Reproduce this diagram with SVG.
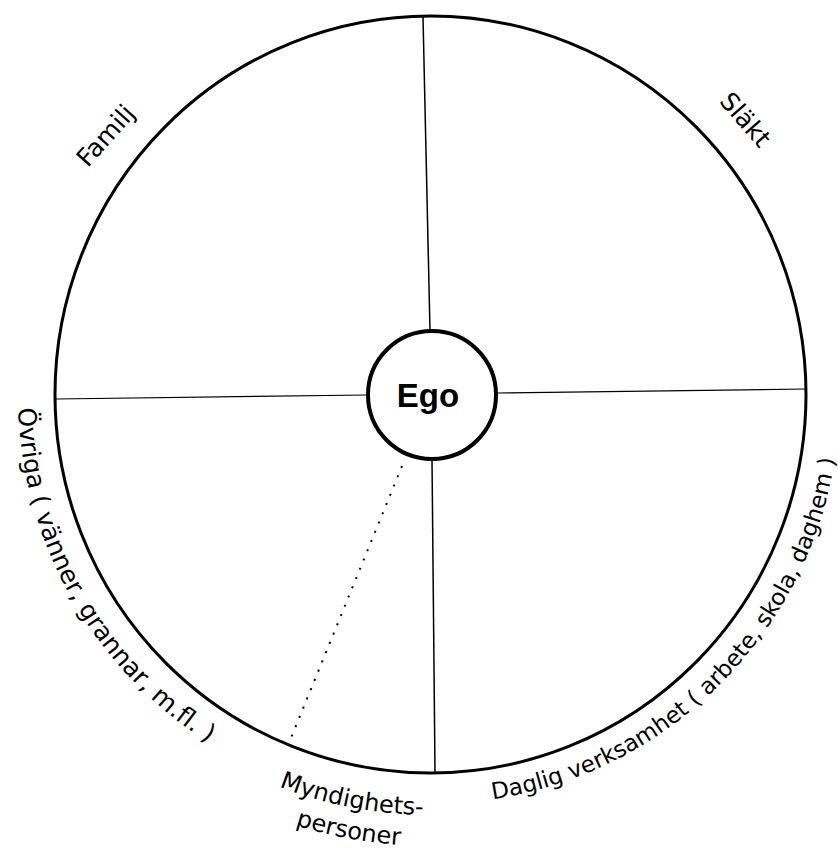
<svg xmlns="http://www.w3.org/2000/svg" width="838" height="851" viewBox="0 0 838 851">
  <style>
    .ring { fill: none; stroke: #000; stroke-width: 3; }
    .ego { fill: #fff; stroke: #000; stroke-width: 4; }
    .conn { stroke: #000; stroke-width: 1.5; fill: none; }
    .thin { stroke: #000; stroke-width: 1.2; fill: none; }
    .dot { stroke: #000; stroke-width: 2; fill: none; stroke-dasharray: 2 8; }
    .lbl { font-family: "DejaVu Sans", "Liberation Sans", sans-serif; font-size: 25px; fill: #000; }
    .sm { font-size: 24px; }
    .xs { font-size: 23px; }
    .egot { font-family: "Liberation Sans", Arial, sans-serif; font-size: 33px; font-weight: bold; fill: #000; }
  </style>
  <defs>
    <path id="pOvriga" d="M 18.2 408 A 413 413 0 0 0 256.5 769.3"/>
    <path id="pDaglig" d="M 492.9 799.3 A 409 409 0 0 0 833.8 324"/>
    <path id="pMynd" d="M 279.1 786.6 A 420 420 0 0 0 503.9 808.6"/>
    <path id="pPers" d="M 295.4 825.1 A 451 451 0 0 0 509.3 839.1"/>
  </defs>
  <rect width="838" height="851" fill="#fff"/>

  <g id="outer-circle">
    <ellipse class="ring" cx="430.5" cy="394.5" rx="375.5" ry="378.5"/>
  </g>

  <g id="connectors">
    <line class="conn" x1="423" y1="17" x2="430" y2="331"/>
    <line class="conn" x1="432" y1="459" x2="435" y2="772"/>
    <line class="thin" x1="56" y1="399" x2="367" y2="395"/>
    <line class="thin" x1="497" y1="393" x2="806" y2="389"/>
    <line class="dot" x1="402" y1="466" x2="291" y2="738"/>
  </g>

  <g id="ego">
    <circle class="ego" cx="432" cy="395" r="64"/>
    <text class="egot" x="428" y="407" text-anchor="middle">Ego</text>
  </g>

  <g id="familj">
    <text class="lbl" transform="translate(106,136) rotate(-48)" x="0" y="8" text-anchor="middle">Familj</text>
  </g>

  <g id="slakt">
    <text class="lbl" transform="translate(745,120) rotate(49)" x="0" y="8" text-anchor="middle">Släkt</text>
  </g>

  <g id="ovriga">
    <text class="lbl"><textPath href="#pOvriga">Övriga ( vänner, grannar, m.fl. )</textPath></text>
  </g>

  <g id="daglig">
    <text class="lbl xs"><textPath href="#pDaglig">Daglig verksamhet ( arbete, skola, daghem )</textPath></text>
  </g>

  <g id="myndighetspersoner">
    <text class="lbl sm"><textPath href="#pMynd">Myndighets-</textPath></text>
    <text class="lbl sm"><textPath href="#pPers">personer</textPath></text>
  </g>
</svg>
